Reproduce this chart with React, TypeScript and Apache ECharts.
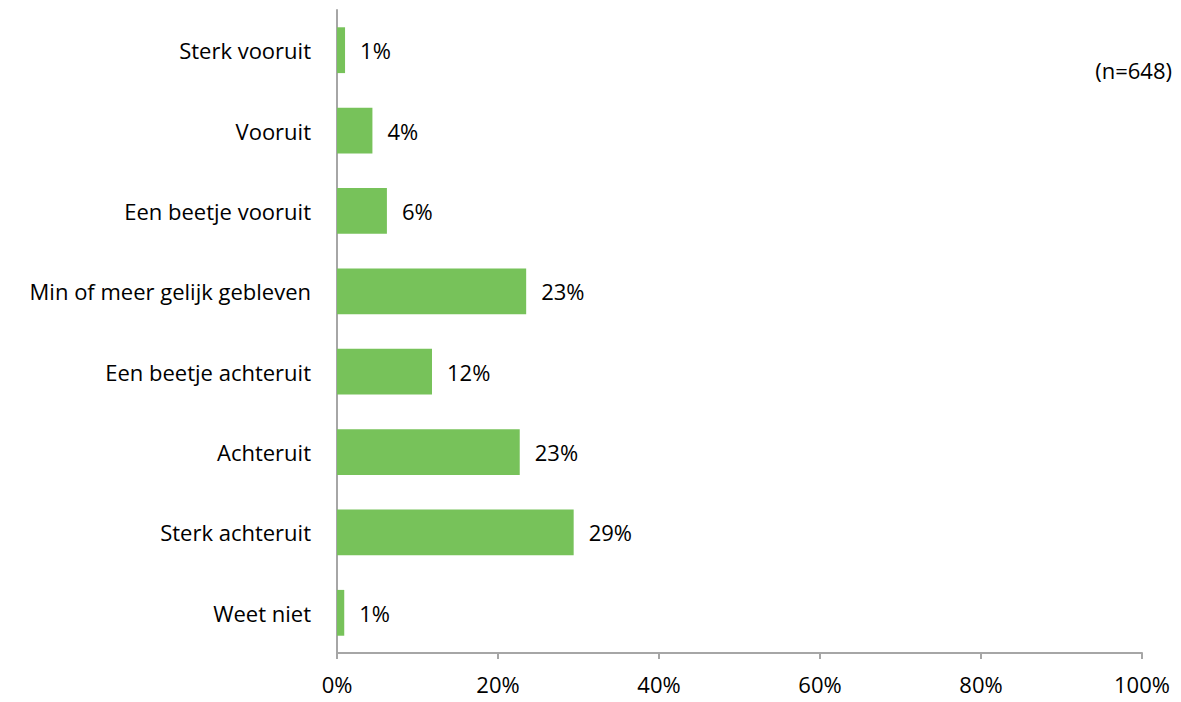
import React, { useEffect, useRef } from "react";
import * as echarts from "echarts";

const categories = [
  "Sterk vooruit",
  "Vooruit",
  "Een beetje vooruit",
  "Min of meer gelijk gebleven",
  "Een beetje achteruit",
  "Achteruit",
  "Sterk achteruit",
  "Weet niet",
];
const values = [1.0, 4.4, 6.2, 23.5, 11.8, 22.7, 29.4, 0.9];
const valueLabels = ["1%", "4%", "6%", "23%", "12%", "23%", "29%", "1%"];
const sampleNote = "(n=648)";

const FONT = "Open Sans";
const FS = 22;

export default function App() {
  const ref = useRef<HTMLDivElement>(null);
  useEffect(() => {
    const chart = echarts.init(ref.current!, null, { renderer: "svg" });
    chart.setOption({
      animation: false,
      textStyle: { fontFamily: FONT },
      grid: { left: 337, right: 39, top: 10, bottom: 49, containLabel: false },
      xAxis: {
        type: "value",
        min: 0,
        max: 100,
        interval: 20,
        axisLine: { show: true, lineStyle: { color: "#a6a6a6", width: 2 } },
        axisTick: { show: true, length: 6, lineStyle: { color: "#a6a6a6", width: 2 } },
        splitLine: { show: false },
        axisLabel: {
          formatter: (v: number) => v + "%",
          color: "#000",
          fontSize: FS,
          fontFamily: FONT,
          margin: 20,
        },
      },
      yAxis: {
        type: "category",
        data: categories,
        inverse: true,
        axisLine: { show: true, lineStyle: { color: "#a6a6a6", width: 2 } },
        axisTick: { show: false },
        axisLabel: { color: "#000", fontSize: FS, fontFamily: FONT, margin: 26 },
      },
      series: [
        {
          type: "bar",
          data: values,
          barCategoryGap: "43%",
          itemStyle: { color: "#77c25a" },
          label: {
            show: true,
            position: "right",
            distance: 15,
            color: "#000",
            fontSize: FS,
            fontFamily: FONT,
            formatter: (p: any) => valueLabels[p.dataIndex],
          },
        },
      ],
      graphic: [
        {
          type: "text",
          right: 9,
          top: 59,
          style: { text: sampleNote, fontSize: FS, fontFamily: FONT, fill: "#000" },
        },
      ],
    });
    return () => chart.dispose();
  }, []);
  return <div ref={ref} style={{ width: 1181, height: 702, margin: -8 }} />;
}
